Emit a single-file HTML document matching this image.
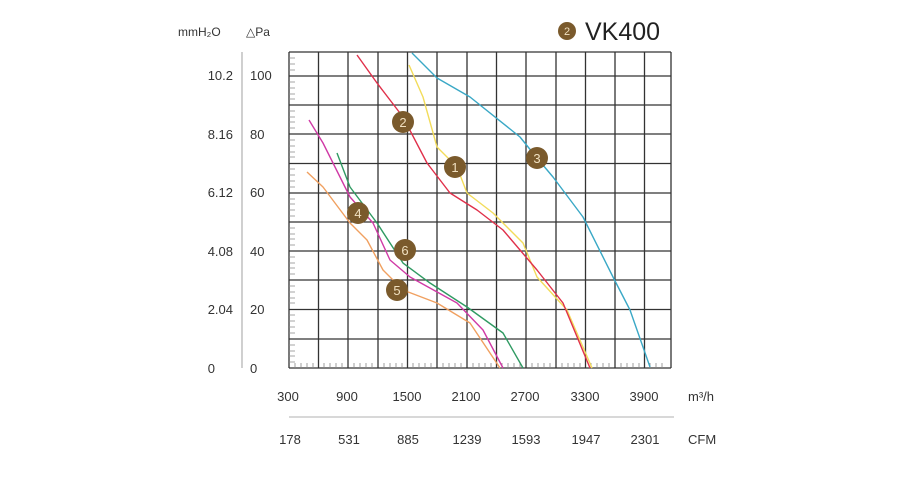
<!DOCTYPE html>
<html><head><meta charset="utf-8"><style>
body{margin:0;background:#fff;}
svg{display:block;font-family:"Liberation Sans",sans-serif;}
</style></head><body>
<svg width="900" height="500" viewBox="0 0 900 500">
<g stroke="#333" stroke-width="1.3" fill="none">
<path d="M289,52V368 M318.5,52V368 M348,52V368 M378,52V368 M407.5,52V368 M437,52V368 M467,52V368 M496.5,52V368 M526,52V368 M556,52V368 M585.5,52V368 M615,52V368 M644.5,52V368 M671,52V368"/>
<path d="M289,52H671 M289,76H671 M289,105H671 M289,134H671 M289,163.5H671 M289,193H671 M289,222H671 M289,251H671 M289,280H671 M289,309.5H671 M289,339H671 M289,368H671"/>
</g>
<g stroke="#888" stroke-width="0.8">
<path d="M242,52V368"/>
<path d="M289,58h6M289,64h6M289,70h6M289,82h6M289,88h6M289,94h6M289,99h6M289,111h6M289,117h6M289,122h6M289,128h6M289,140h6M289,146h6M289,152h6M289,157h6M289,169h6M289,175h6M289,181h6M289,187h6M289,199h6M289,204h6M289,210h6M289,216h6M289,228h6M289,234h6M289,239h6M289,245h6M289,257h6M289,263h6M289,268h6M289,274h6M289,286h6M289,292h6M289,298h6M289,303h6M289,315h6M289,321h6M289,327h6M289,333h6M289,345h6M289,351h6M289,356h6M289,362h6"/>
<path d="M295,368v-5M301,368v-5M307,368v-5M313,368v-5M324,368v-5M330,368v-5M336,368v-5M342,368v-5M354,368v-5M360,368v-5M366,368v-5M372,368v-5M384,368v-5M390,368v-5M396,368v-5M402,368v-5M413,368v-5M419,368v-5M425,368v-5M431,368v-5M443,368v-5M449,368v-5M455,368v-5M461,368v-5M473,368v-5M479,368v-5M485,368v-5M491,368v-5M502,368v-5M508,368v-5M514,368v-5M520,368v-5M532,368v-5M538,368v-5M544,368v-5M550,368v-5M562,368v-5M568,368v-5M574,368v-5M580,368v-5M591,368v-5M597,368v-5M603,368v-5M609,368v-5M621,368v-5M627,368v-5M633,368v-5M639,368v-5M650,368v-5M656,368v-5M662,368v-5"/>
<path d="M289,417H674" stroke="#999"/>
</g>
<g fill="none" stroke-width="1.4" stroke-linejoin="round">
<polyline stroke="#3aa8c6" points="412,53 437,78 470,97 520,137 537,158 553,177 583,217 613,277 630,310 650,367"/>
<polyline stroke="#f2dc5a" points="409,65 423,97 437,147 457,167 467,193 493,213 523,243 537,277 567,310 592,368"/>
<polyline stroke="#e0304a" points="357,55 377,83 403,117 427,163 450,193 477,210 503,230 537,270 563,303 590,368"/>
<polyline stroke="#d03aa6" points="309,120 323,143 350,197 373,223 390,260 410,277 457,303 483,330 503,368"/>
<polyline stroke="#2f9a62" points="337,153 350,187 377,223 403,263 430,283 467,307 503,333 523,368"/>
<polyline stroke="#f0a060" points="307,172 323,187 350,223 367,240 383,270 403,290 437,303 470,323 500,368"/>
</g>
<g fill="#7a5a2c">
<circle cx="403" cy="122" r="11"/><circle cx="455" cy="167" r="11"/><circle cx="537" cy="158" r="11"/>
<circle cx="358" cy="213" r="11"/><circle cx="405" cy="250" r="11"/><circle cx="397" cy="290" r="11"/>
<circle cx="567" cy="31" r="9"/>
</g>
<g fill="#f0e0c0" font-size="13" text-anchor="middle">
<text x="403" y="127">2</text><text x="455" y="172">1</text><text x="537" y="163">3</text>
<text x="358" y="218">4</text><text x="405" y="255">6</text><text x="397" y="295">5</text>
<text x="567" y="35" font-size="11">2</text>
</g>
<text x="585" y="40" font-size="25" fill="#222">VK400</text>
<g font-size="13" fill="#333">
<text x="178" y="36" font-size="12">mmH₂O</text><text x="246" y="36" font-size="12">△Pa</text>
<g text-anchor="end"><text x="233" y="80">10.2</text><text x="233" y="139">8.16</text><text x="233" y="197">6.12</text><text x="233" y="256">4.08</text><text x="233" y="314">2.04</text><text x="215" y="373">0</text></g>
<text x="250" y="80">100</text><text x="250" y="139">80</text><text x="250" y="197">60</text><text x="250" y="256">40</text><text x="250" y="314">20</text><text x="250" y="373">0</text>
<g text-anchor="middle"><text x="288" y="401">300</text><text x="347" y="401">900</text><text x="407" y="401">1500</text><text x="466" y="401">2100</text><text x="525" y="401">2700</text><text x="585" y="401">3300</text><text x="644" y="401">3900</text>
<text x="290" y="444">178</text><text x="349" y="444">531</text><text x="408" y="444">885</text><text x="467" y="444">1239</text><text x="526" y="444">1593</text><text x="586" y="444">1947</text><text x="645" y="444">2301</text></g>
<text x="688" y="401">m³/h</text><text x="688" y="444">CFM</text>
</g>
</svg>
</body></html>
